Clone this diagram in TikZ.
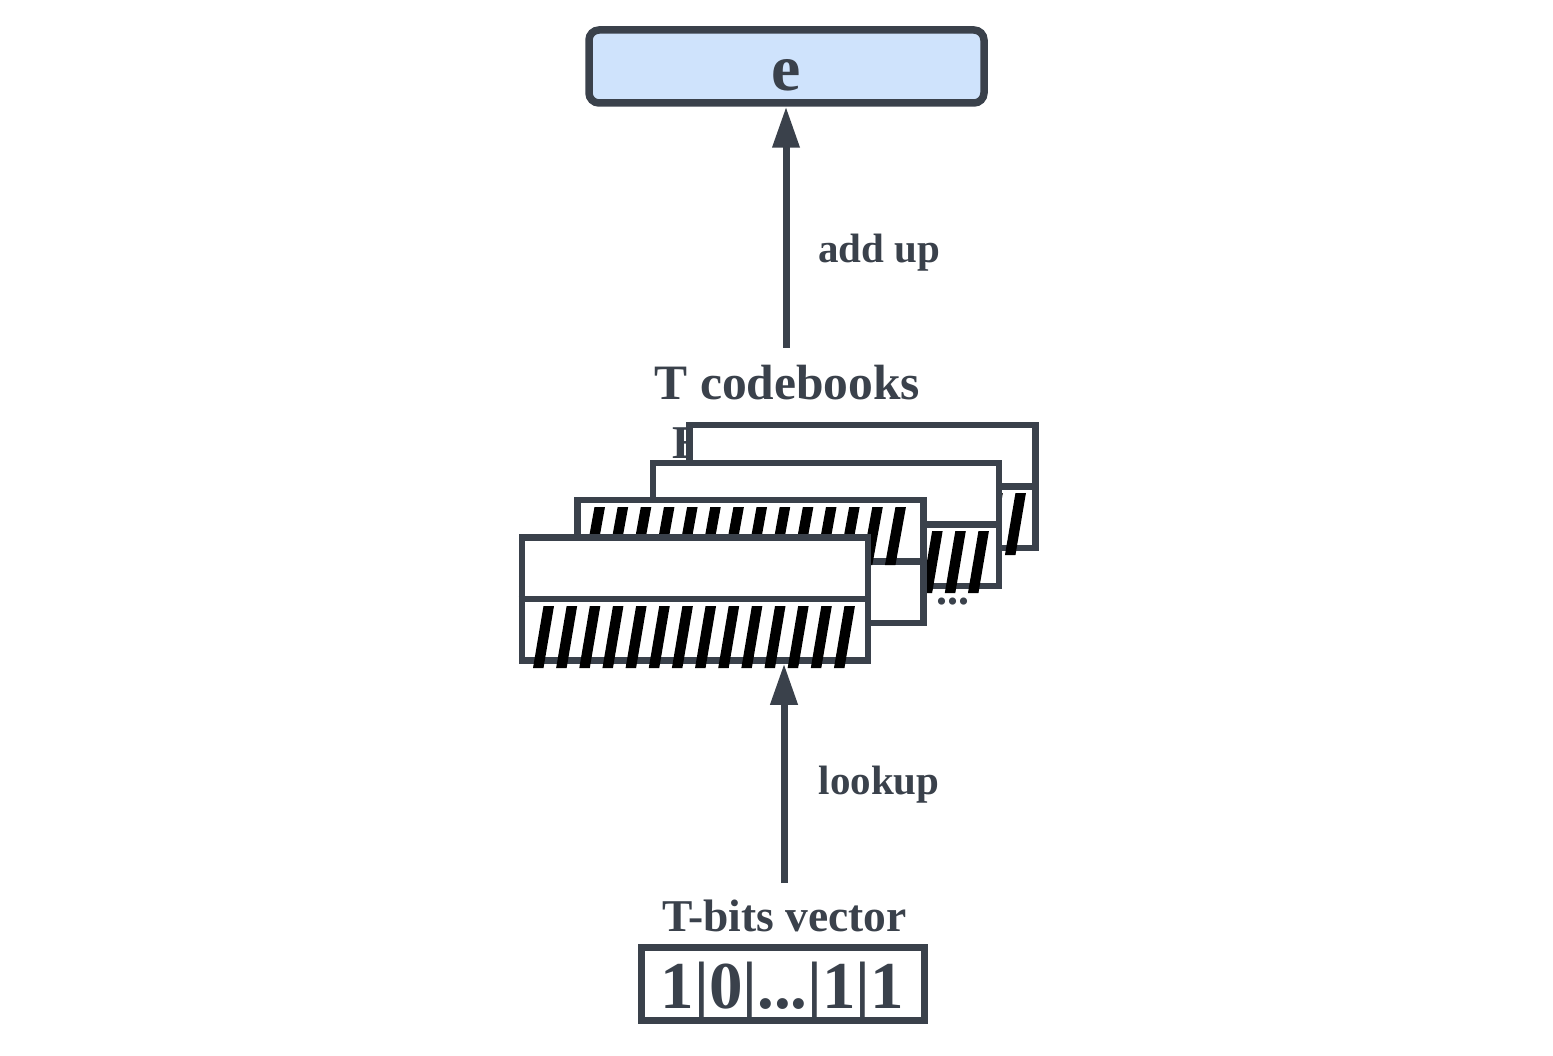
\documentclass[tikz,border=0pt]{standalone}
\usepackage{fontspec}
\setmainfont{Liberation Serif}
\usetikzlibrary{arrows.meta}
\definecolor{ink}{HTML}{3A414B}
\definecolor{efill}{HTML}{CFE3FC}
\newcommand\hatchrow[4]{%
  \foreach \k in {0,...,13}{%
    \fill[black] ({#1+#4+23.15*\k}, #2) -- ++(10.5,0) -- ({#1+#4+23.15*\k}, #3) -- ++(-10.5,0) -- cycle;}}
\begin{document}
\begin{tikzpicture}[x=1pt,y=-1pt,
  lbl/.style={text=ink, inner sep=0pt},
  cbook/.style={draw=ink, fill=white, line width=6.5pt, minimum width=346pt, minimum height=123pt, inner sep=0pt},
  divider/.style={draw=ink, line width=6.5pt},
  arr/.style={draw=ink, line width=7pt, -{Triangle[length=41pt,width=26pt]}}]
\useasboundingbox (0,0) rectangle (1553,1056);

% top box
\node[draw=ink, fill=efill, line width=7.5pt, rounded corners=10pt,
      minimum width=395pt, minimum height=73pt, inner sep=0pt,
      text height=48pt, text depth=0pt, text=ink,
      font={\bfseries\fontsize{66pt}{66pt}\selectfont}] (ebox) at (786.5,66.5) {e};

% labels
\node[lbl, anchor=base, font={\bfseries\fontsize{41pt}{41pt}\selectfont}] (addup) at (879,263) {add up};
\node[lbl, anchor=base, font={\bfseries\fontsize{49.5pt}{49.5pt}\selectfont}] (tcb) at (787.5,399.3) {T codebooks};
\node[lbl, anchor=base west, font={\bfseries\fontsize{47pt}{47pt}\selectfont}] (elbl) at (672,458) {E};

% codebooks (back to front)
\node[cbook] (cb4) at (862.5,486.5) {};
\draw[divider] (cb4.west) -- (cb4.east);
\hatchrow{689.5}{493}{555}{25}

\node[cbook] (cb3) at (826,524.4) {};
\draw[divider] (cb3.west) -- (cb3.east);
\hatchrow{653.5}{531}{593}{24}

\node[lbl, anchor=base, font={\bfseries\fontsize{44pt}{44pt}\selectfont}] (dots) at (953,604) {...};

\node[cbook] (cb2) at (750.5,561.5) {};
\draw[divider] (cb2.west) -- (cb2.east);
\hatchrow{577.5}{507}{565}{17}

\node[cbook] (cb1) at (694.8,599) {};
\draw[divider] (cb1.west) -- (cb1.east);
\hatchrow{521.5}{606}{668}{22}

% lookup
\node[lbl, anchor=base, font={\bfseries\fontsize{41pt}{41pt}\selectfont}] (lookup) at (879,794) {lookup};
\node[lbl, anchor=base, font={\bfseries\fontsize{45.5pt}{45.5pt}\selectfont}] (tbits) at (784.5,931.7) {T-bits vector};
\node[draw=ink, line width=7pt, minimum width=283pt, minimum height=73.5pt, inner sep=0pt,
      text height=48.5pt, text depth=0pt, text=ink,
      font={\bfseries\fontsize{67pt}{67pt}\selectfont}] (bits) at (782.5,983.75) {1|0|...|1|1};

% arrows
\coordinate (addstart) at (786,348);
\coordinate (lookstart) at (784,883);
\draw[arr] (addstart) -- (addstart |- ebox.south);
\draw[arr] (lookstart) -- (lookstart |- cb1.south);
\end{tikzpicture}
\end{document}
